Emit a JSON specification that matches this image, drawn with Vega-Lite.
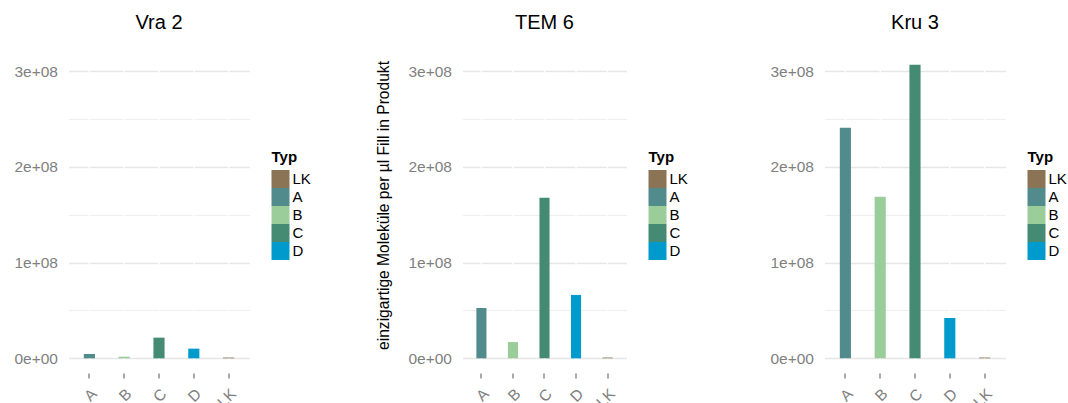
{
  "$schema": "https://vega.github.io/schema/vega-lite/v6.json",
  "background": "white",
  "padding": {"left": 13.5, "top": 12, "right": 0, "bottom": 0},
  "config": {
    "font": "Liberation Sans",
    "view": {"stroke": null},
    "concat": {"spacing": 0},
    "title": {"fontSize": 20, "fontWeight": "normal", "color": "black", "baseline": "alphabetic", "offset": 16.5, "anchor": "middle", "frame": "group"},
    "axisX": {
      "title": null, "domain": false, "grid": false, "bandPosition": 0.5,
      "labelAngle": -45, "labelAlign": "right", "labelBaseline": "top",
      "labelFontSize": 15.5, "labelColor": "#7f7f7f", "labelPadding": 8,
      "tickSize": 5, "tickColor": "#8c8c8c", "tickWidth": 1.5
    },
    "axisY": {
      "domain": false, "grid": true,
      "values": [0, 50000000, 100000000, 150000000, 200000000, 250000000, 300000000],
      "labelExpr": "datum.value % 100000000 === 0 ? (datum.value === 0 ? '0e+00' : format(datum.value / 100000000, 'd') + 'e+08') : ''",
      "labelFontSize": 15.5, "labelColor": "#7f7f7f", "labelPadding": 6,
      "tickSize": 5, "tickColor": "#8c8c8c", "tickWidth": 1.5,
      "tickOpacity": {"condition": {"test": "datum.value % 100000000 === 0", "value": 1}, "value": 0},
      "gridColor": {"condition": {"test": "datum.value % 100000000 === 0", "value": "#e6e6e6"}, "value": "#efefef"},
      "gridWidth": {"condition": {"test": "datum.value % 100000000 === 0", "value": 1.6}, "value": 1}
    },
    "legend": {
      "orient": "none",
      "titleFontSize": 15, "titleFontWeight": "bold", "titleColor": "black", "titlePadding": 5,
      "labelFontSize": 15, "labelColor": "black", "labelOffset": 3,
      "symbolType": "square", "symbolSize": 324, "symbolStrokeWidth": 0, "symbolOpacity": 1,
      "rowPadding": 0
    }
  },
  "data": {
    "values": [
      {"Probe": "Vra 2", "Typ": "A", "Wert": 4500000},
      {"Probe": "Vra 2", "Typ": "B", "Wert": 1700000},
      {"Probe": "Vra 2", "Typ": "C", "Wert": 21600000},
      {"Probe": "Vra 2", "Typ": "D", "Wert": 10100000},
      {"Probe": "Vra 2", "Typ": "LK", "Wert": 800000},
      {"Probe": "TEM 6", "Typ": "A", "Wert": 52600000},
      {"Probe": "TEM 6", "Typ": "B", "Wert": 17000000},
      {"Probe": "TEM 6", "Typ": "C", "Wert": 167700000},
      {"Probe": "TEM 6", "Typ": "D", "Wert": 66200000},
      {"Probe": "TEM 6", "Typ": "LK", "Wert": 800000},
      {"Probe": "Kru 3", "Typ": "A", "Wert": 240900000},
      {"Probe": "Kru 3", "Typ": "B", "Wert": 168700000},
      {"Probe": "Kru 3", "Typ": "C", "Wert": 306800000},
      {"Probe": "Kru 3", "Typ": "D", "Wert": 42100000},
      {"Probe": "Kru 3", "Typ": "LK", "Wert": 800000}
    ]
  },
  "resolve": {"scale": {"color": "independent", "x": "independent", "y": "independent"}, "legend": {"color": "independent"}},
  "hconcat": [
    {
      "title": "Vra 2",
      "width": 181, "height": 323,
      "transform": [{"filter": "datum.Probe === 'Vra 2'"}],
      "layer": [
        {
          "mark": {"type": "rule", "color": "white", "strokeWidth": 1.5},
          "encoding": {"x": {"field": "Typ", "type": "nominal", "scale": {"type": "band", "domain": ["A", "B", "C", "D", "LK"], "paddingInner": 0.68, "paddingOuter": 0.44}}}
        },
        {
          "mark": {"type": "bar"},
          "encoding": {
            "x": {"field": "Typ", "type": "nominal", "scale": {"type": "band", "domain": ["A", "B", "C", "D", "LK"], "paddingInner": 0.68, "paddingOuter": 0.44}},
            "y": {"field": "Wert", "type": "quantitative", "title": null, "scale": {"domain": [-15340000, 322140000], "nice": false, "zero": false}},
            "y2": {"datum": 0},
            "color": {"field": "Typ", "type": "nominal", "scale": {"domain": ["LK", "A", "B", "C", "D"], "range": ["#8B7355", "#528B8B", "#9BCD9B", "#458B74", "#009ACD"]}, "legend": {"title": "Typ", "legendX": 138.5, "legendY": 35.5, "padding": 64.5}}
          }
        }
      ]
    },
    {
      "title": "TEM 6",
      "width": 164, "height": 323,
      "transform": [{"filter": "datum.Probe === 'TEM 6'"}],
      "layer": [
        {
          "mark": {"type": "rule", "color": "white", "strokeWidth": 1.5},
          "encoding": {"x": {"field": "Typ", "type": "nominal", "scale": {"type": "band", "domain": ["A", "B", "C", "D", "LK"], "paddingInner": 0.68, "paddingOuter": 0.44}}}
        },
        {
          "mark": {"type": "bar"},
          "encoding": {
            "x": {"field": "Typ", "type": "nominal", "scale": {"type": "band", "domain": ["A", "B", "C", "D", "LK"], "paddingInner": 0.68, "paddingOuter": 0.44}},
            "y": {"field": "Wert", "type": "quantitative", "scale": {"domain": [-15340000, 322140000], "nice": false, "zero": false},
                  "axis": {"title": "einzigartige Moleküle per µl Fill in Produkt", "titleFontSize": 15.6, "titleFontWeight": "normal", "titleColor": "black", "titlePadding": 16, "titleY": 155}},
            "y2": {"datum": 0},
            "color": {"field": "Typ", "type": "nominal", "scale": {"domain": ["LK", "A", "B", "C", "D"], "range": ["#8B7355", "#528B8B", "#9BCD9B", "#458B74", "#009ACD"]}, "legend": {"title": "Typ", "legendX": 105.5, "legendY": 19.5, "padding": 80.5}}
          }
        }
      ]
    },
    {
      "title": "Kru 3",
      "width": 181, "height": 323,
      "transform": [{"filter": "datum.Probe === 'Kru 3'"}],
      "layer": [
        {
          "mark": {"type": "rule", "color": "white", "strokeWidth": 1.5},
          "encoding": {"x": {"field": "Typ", "type": "nominal", "scale": {"type": "band", "domain": ["A", "B", "C", "D", "LK"], "paddingInner": 0.68, "paddingOuter": 0.44}}}
        },
        {
          "mark": {"type": "bar"},
          "encoding": {
            "x": {"field": "Typ", "type": "nominal", "scale": {"type": "band", "domain": ["A", "B", "C", "D", "LK"], "paddingInner": 0.68, "paddingOuter": 0.44}},
            "y": {"field": "Wert", "type": "quantitative", "title": null, "scale": {"domain": [-15340000, 322140000], "nice": false, "zero": false}},
            "y2": {"datum": 0},
            "color": {"field": "Typ", "type": "nominal", "scale": {"domain": ["LK", "A", "B", "C", "D"], "range": ["#8B7355", "#528B8B", "#9BCD9B", "#458B74", "#009ACD"]}, "legend": {"title": "Typ", "legendX": 203, "legendY": 100, "padding": 0}}
          }
        }
      ]
    }
  ]
}
